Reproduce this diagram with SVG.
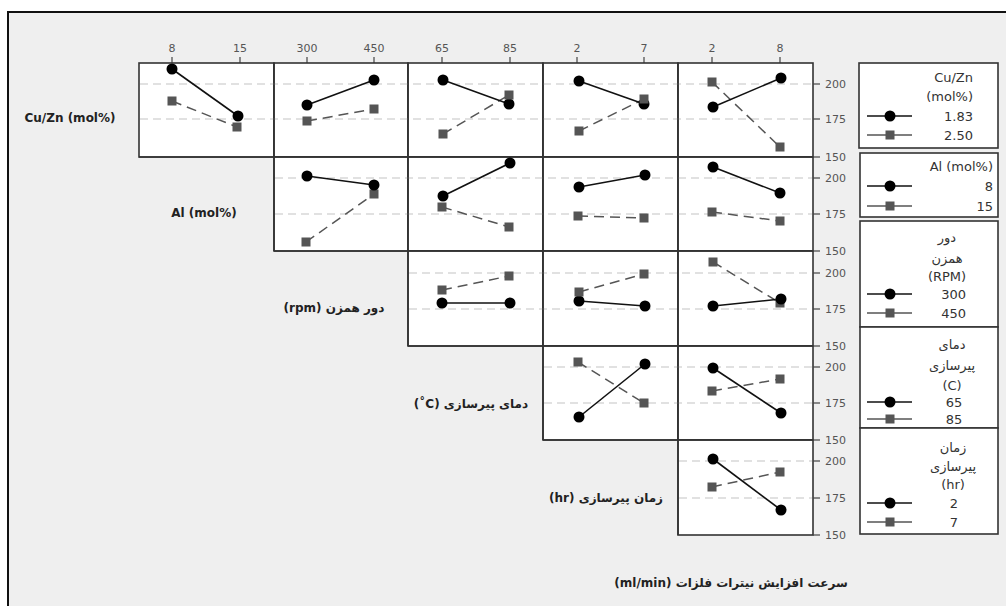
<svg xmlns="http://www.w3.org/2000/svg" width="1006" height="606" viewBox="0 0 1006 606">
<style>
.panel{fill:#ffffff;stroke:#333;stroke-width:1.6}
.ref{stroke:#c4c4c4;stroke-width:1.2;stroke-dasharray:8 5;fill:none}
.tick{stroke:#444;stroke-width:1.2}
.tl{font-family:"DejaVu Sans",Verdana,sans-serif;font-size:11px;fill:#555}
.sl{stroke:#111;stroke-width:1.6;fill:none}
.dl{stroke:#555;stroke-width:1.5;stroke-dasharray:10 6;fill:none}
.c{fill:#000}
.s{fill:#555}
.rl{font-family:"DejaVu Sans",Verdana,sans-serif;font-size:12px;font-weight:bold;fill:#222}
.lg{fill:#fff;stroke:#333;stroke-width:1.6}
.lt{font-family:"DejaVu Sans",Tahoma,sans-serif;font-size:13px;fill:#333}
.ll1{stroke:#111;stroke-width:1.6}
.ll2{stroke:#555;stroke-width:1.6}
</style>
<defs>
<circle id="mc" r="5.5" class="c"/>
<rect id="ms" x="-4.5" y="-4.5" width="9" height="9" class="s"/>
</defs>
<rect x="0" y="0" width="1006" height="606" fill="#ffffff"/>
<rect x="8" y="12" width="1010" height="610" fill="#efefef" stroke="#111" stroke-width="2"/>

<!-- top axis -->
<g id="top-axis">
<g class="tick">
<line x1="172" y1="57" x2="172" y2="63"/><line x1="240" y1="57" x2="240" y2="63"/>
<line x1="307" y1="57" x2="307" y2="63"/><line x1="374" y1="57" x2="374" y2="63"/>
<line x1="442" y1="57" x2="442" y2="63"/><line x1="510" y1="57" x2="510" y2="63"/>
<line x1="577" y1="57" x2="577" y2="63"/><line x1="644" y1="57" x2="644" y2="63"/>
<line x1="712" y1="57" x2="712" y2="63"/><line x1="780" y1="57" x2="780" y2="63"/>
</g>
<g class="tl" text-anchor="middle">
<text x="172" y="52">8</text><text x="240" y="52">15</text>
<text x="307" y="52">300</text><text x="374" y="52">450</text>
<text x="442" y="52">65</text><text x="510" y="52">85</text>
<text x="577" y="52">2</text><text x="644" y="52">7</text>
<text x="712" y="52">2</text><text x="780" y="52">8</text>
</g>
</g>

<!-- panels -->
<g id="panels">
<rect class="panel" x="139" y="63" width="135" height="94"/>
<rect class="panel" x="274" y="63" width="134" height="94"/>
<rect class="panel" x="408" y="63" width="135" height="94"/>
<rect class="panel" x="543" y="63" width="135" height="94"/>
<rect class="panel" x="678" y="63" width="135" height="94"/>
<rect class="panel" x="274" y="157" width="134" height="94"/>
<rect class="panel" x="408" y="157" width="135" height="94"/>
<rect class="panel" x="543" y="157" width="135" height="94"/>
<rect class="panel" x="678" y="157" width="135" height="94"/>
<rect class="panel" x="408" y="251" width="135" height="95"/>
<rect class="panel" x="543" y="251" width="135" height="95"/>
<rect class="panel" x="678" y="251" width="135" height="95"/>
<rect class="panel" x="543" y="346" width="135" height="94"/>
<rect class="panel" x="678" y="346" width="135" height="94"/>
<rect class="panel" x="678" y="440" width="135" height="95"/>
</g>

<!-- reference lines -->
<g id="refs" class="ref">
<line x1="140" y1="84" x2="812" y2="84"/><line x1="140" y1="119" x2="812" y2="119"/>
<line x1="275" y1="178" x2="812" y2="178"/><line x1="275" y1="214" x2="812" y2="214"/>
<line x1="409" y1="273" x2="812" y2="273"/><line x1="409" y1="309" x2="812" y2="309"/>
<line x1="544" y1="367" x2="812" y2="367"/><line x1="544" y1="403" x2="812" y2="403"/>
<line x1="679" y1="461" x2="812" y2="461"/><line x1="679" y1="498" x2="812" y2="498"/>
</g>
<g id="panel-borders" fill="none" stroke="#333" stroke-width="1.6">
<line x1="274" y1="63" x2="274" y2="251"/><line x1="408" y1="63" x2="408" y2="346"/>
<line x1="543" y1="63" x2="543" y2="440"/><line x1="678" y1="63" x2="678" y2="535"/>
<line x1="139" y1="157" x2="813" y2="157"/><line x1="274" y1="251" x2="813" y2="251"/>
<line x1="408" y1="346" x2="813" y2="346"/><line x1="543" y1="440" x2="813" y2="440"/>
</g>

<!-- right axis -->
<g id="right-axis">
<g class="tick">
<line x1="813" y1="84" x2="820" y2="84"/><line x1="813" y1="119" x2="820" y2="119"/><line x1="813" y1="157" x2="820" y2="157"/>
<line x1="813" y1="178" x2="820" y2="178"/><line x1="813" y1="214" x2="820" y2="214"/><line x1="813" y1="251" x2="820" y2="251"/>
<line x1="813" y1="273" x2="820" y2="273"/><line x1="813" y1="309" x2="820" y2="309"/><line x1="813" y1="346" x2="820" y2="346"/>
<line x1="813" y1="367" x2="820" y2="367"/><line x1="813" y1="403" x2="820" y2="403"/><line x1="813" y1="440" x2="820" y2="440"/>
<line x1="813" y1="461" x2="820" y2="461"/><line x1="813" y1="498" x2="820" y2="498"/><line x1="813" y1="535" x2="820" y2="535"/>
</g>
<g class="tl">
<text x="825" y="88">200</text><text x="825" y="123">175</text><text x="825" y="161">150</text>
<text x="825" y="182">200</text><text x="825" y="218">175</text><text x="825" y="255">150</text>
<text x="825" y="277">200</text><text x="825" y="313">175</text><text x="825" y="350">150</text>
<text x="825" y="371">200</text><text x="825" y="407">175</text><text x="825" y="444">150</text>
<text x="825" y="465">200</text><text x="825" y="502">175</text><text x="825" y="539">150</text>
</g>
</g>

<!-- connectors (interaction lines) -->
<g id="connectors">
<g class="dl">
<line x1="172" y1="101" x2="237" y2="127"/>
<line x1="307" y1="121" x2="374" y2="109"/>
<line x1="443" y1="134" x2="509" y2="95"/>
<line x1="579" y1="131" x2="644" y2="99"/>
<line x1="712" y1="82" x2="780" y2="147"/>
<line x1="306" y1="242" x2="374" y2="194"/>
<line x1="442" y1="207" x2="509" y2="227"/>
<line x1="578" y1="216" x2="644" y2="218"/>
<line x1="712" y1="212" x2="780" y2="221"/>
<line x1="442" y1="290" x2="509" y2="276"/>
<line x1="579" y1="292" x2="644" y2="274"/>
<line x1="713" y1="262" x2="780" y2="303"/>
<line x1="578" y1="362" x2="644" y2="403"/>
<line x1="712" y1="391" x2="780" y2="379"/>
<line x1="712" y1="487" x2="780" y2="472"/>
</g>
<g class="sl">
<line x1="172" y1="69" x2="238" y2="116"/>
<line x1="307" y1="105" x2="374" y2="80"/>
<line x1="443" y1="80" x2="509" y2="104"/>
<line x1="579" y1="81" x2="644" y2="104"/>
<line x1="713" y1="107" x2="781" y2="78"/>
<line x1="307" y1="176" x2="374" y2="185"/>
<line x1="443" y1="196" x2="510" y2="163"/>
<line x1="579" y1="187" x2="645" y2="175"/>
<line x1="713" y1="167" x2="780" y2="193"/>
<line x1="442" y1="303" x2="510" y2="303"/>
<line x1="579" y1="301" x2="645" y2="306"/>
<line x1="713" y1="306" x2="781" y2="299"/>
<line x1="579" y1="417" x2="645" y2="364"/>
<line x1="713" y1="368" x2="781" y2="413"/>
<line x1="713" y1="459" x2="781" y2="510"/>
</g>
</g>

<!-- markers -->
<g id="points">
<use href="#mc" x="172" y="69"/><use href="#mc" x="238" y="116"/>
<use href="#ms" x="172" y="101"/><use href="#ms" x="237" y="127"/>
<use href="#mc" x="307" y="105"/><use href="#mc" x="374" y="80"/>
<use href="#ms" x="307" y="121"/><use href="#ms" x="374" y="109"/>
<use href="#mc" x="443" y="80"/><use href="#mc" x="509" y="104"/>
<use href="#ms" x="443" y="134"/><use href="#ms" x="509" y="95"/>
<use href="#mc" x="579" y="81"/><use href="#mc" x="644" y="104"/>
<use href="#ms" x="579" y="131"/><use href="#ms" x="644" y="99"/>
<use href="#mc" x="713" y="107"/><use href="#mc" x="781" y="78"/>
<use href="#ms" x="712" y="82"/><use href="#ms" x="780" y="147"/>

<use href="#ms" x="306" y="242"/><use href="#ms" x="374" y="194"/>
<use href="#mc" x="307" y="176"/><use href="#mc" x="374" y="185"/>
<use href="#mc" x="443" y="196"/><use href="#mc" x="510" y="163"/>
<use href="#ms" x="442" y="207"/><use href="#ms" x="509" y="227"/>
<use href="#mc" x="579" y="187"/><use href="#mc" x="645" y="175"/>
<use href="#ms" x="578" y="216"/><use href="#ms" x="644" y="218"/>
<use href="#mc" x="713" y="167"/><use href="#mc" x="780" y="193"/>
<use href="#ms" x="712" y="212"/><use href="#ms" x="780" y="221"/>

<use href="#mc" x="442" y="303"/><use href="#mc" x="510" y="303"/>
<use href="#ms" x="442" y="290"/><use href="#ms" x="509" y="276"/>
<use href="#mc" x="579" y="301"/><use href="#mc" x="645" y="306"/>
<use href="#ms" x="579" y="292"/><use href="#ms" x="644" y="274"/>
<use href="#ms" x="713" y="262"/><use href="#ms" x="780" y="303"/>
<use href="#mc" x="713" y="306"/><use href="#mc" x="781" y="299"/>

<use href="#mc" x="579" y="417"/><use href="#mc" x="645" y="364"/>
<use href="#ms" x="578" y="362"/><use href="#ms" x="644" y="403"/>
<use href="#mc" x="713" y="368"/><use href="#mc" x="781" y="413"/>
<use href="#ms" x="712" y="391"/><use href="#ms" x="780" y="379"/>

<use href="#mc" x="713" y="459"/><use href="#mc" x="781" y="510"/>
<use href="#ms" x="712" y="487"/><use href="#ms" x="780" y="472"/>
</g>

<!-- row labels -->
<g id="label-cuzn"><text class="rl" x="70" y="122" text-anchor="middle">Cu/Zn (mol%)</text></g>
<g id="label-al"><text class="rl" x="204" y="217" text-anchor="middle">Al (mol%)</text></g>
<g id="label-rpm"><text class="rl" x="334" y="312" text-anchor="middle" direction="rtl">دور همزن (rpm)</text></g>
<g id="label-temp"><text class="rl" x="471" y="408" text-anchor="middle" direction="rtl">دمای پیرسازی &#x200E;(˚C)&#x200E;</text></g>
<g id="label-time"><text class="rl" x="606" y="502" text-anchor="middle" direction="rtl">زمان پیرسازی (hr)</text></g>
<g id="caption"><text class="rl" x="731" y="587" text-anchor="middle" direction="rtl">سرعت افزایش نیترات فلزات (ml/min)</text></g>

<!-- legends -->
<g id="legend-cuzn">
<rect class="lg" x="859" y="63" width="139" height="85"/>
<text class="lt" x="973" y="82" text-anchor="end">Cu/Zn</text>
<text class="lt" x="973" y="101" text-anchor="end">(mol%)</text>
<line class="ll1" x1="867" y1="116" x2="912" y2="116"/><use href="#mc" x="890" y="116"/>
<text class="lt" x="973" y="121" text-anchor="end">1.83</text>
<line class="ll2" x1="867" y1="135" x2="912" y2="135"/><use href="#ms" x="890" y="135"/>
<text class="lt" x="973" y="140" text-anchor="end">2.50</text>
</g>
<g id="legend-al">
<rect class="lg" x="860" y="153" width="138" height="64"/>
<text class="lt" x="993" y="171" text-anchor="end">Al (mol%)</text>
<line class="ll1" x1="867" y1="186" x2="912" y2="186"/><use href="#mc" x="890" y="186"/>
<text class="lt" x="993" y="191" text-anchor="end">8</text>
<line class="ll2" x1="867" y1="206" x2="912" y2="206"/><use href="#ms" x="890" y="206"/>
<text class="lt" x="993" y="211" text-anchor="end">15</text>
</g>
<g id="legend-rpm">
<rect class="lg" x="860" y="221" width="138" height="106"/>
<text class="lt" x="947" y="242" text-anchor="middle">دور</text>
<text class="lt" x="947" y="263" text-anchor="middle">همزن</text>
<text class="lt" x="947" y="281" text-anchor="middle">(RPM)</text>
<line class="ll1" x1="867" y1="294" x2="912" y2="294"/><use href="#mc" x="890" y="294"/>
<text class="lt" x="966" y="299" text-anchor="end">300</text>
<line class="ll2" x1="867" y1="313" x2="912" y2="313"/><use href="#ms" x="890" y="313"/>
<text class="lt" x="966" y="318" text-anchor="end">450</text>
</g>
<g id="legend-temp">
<rect class="lg" x="860" y="327" width="138" height="101"/>
<text class="lt" x="952" y="349" text-anchor="middle">دمای</text>
<text class="lt" x="952" y="370" text-anchor="middle">پیرسازی</text>
<text class="lt" x="952" y="390" text-anchor="middle">(C)</text>
<line class="ll1" x1="867" y1="402" x2="912" y2="402"/><use href="#mc" x="890" y="402"/>
<text class="lt" x="954" y="407" text-anchor="middle">65</text>
<line class="ll2" x1="867" y1="419" x2="912" y2="419"/><use href="#ms" x="890" y="419"/>
<text class="lt" x="954" y="424" text-anchor="middle">85</text>
</g>
<g id="legend-time">
<rect class="lg" x="860" y="428" width="138" height="106"/>
<text class="lt" x="953" y="452" text-anchor="middle">زمان</text>
<text class="lt" x="953" y="471" text-anchor="middle">پیرسازی</text>
<text class="lt" x="953" y="489" text-anchor="middle">(hr)</text>
<line class="ll1" x1="867" y1="503" x2="912" y2="503"/><use href="#mc" x="890" y="503"/>
<text class="lt" x="954" y="508" text-anchor="middle">2</text>
<line class="ll2" x1="867" y1="522" x2="912" y2="522"/><use href="#ms" x="890" y="522"/>
<text class="lt" x="954" y="527" text-anchor="middle">7</text>
</g>
</svg>
